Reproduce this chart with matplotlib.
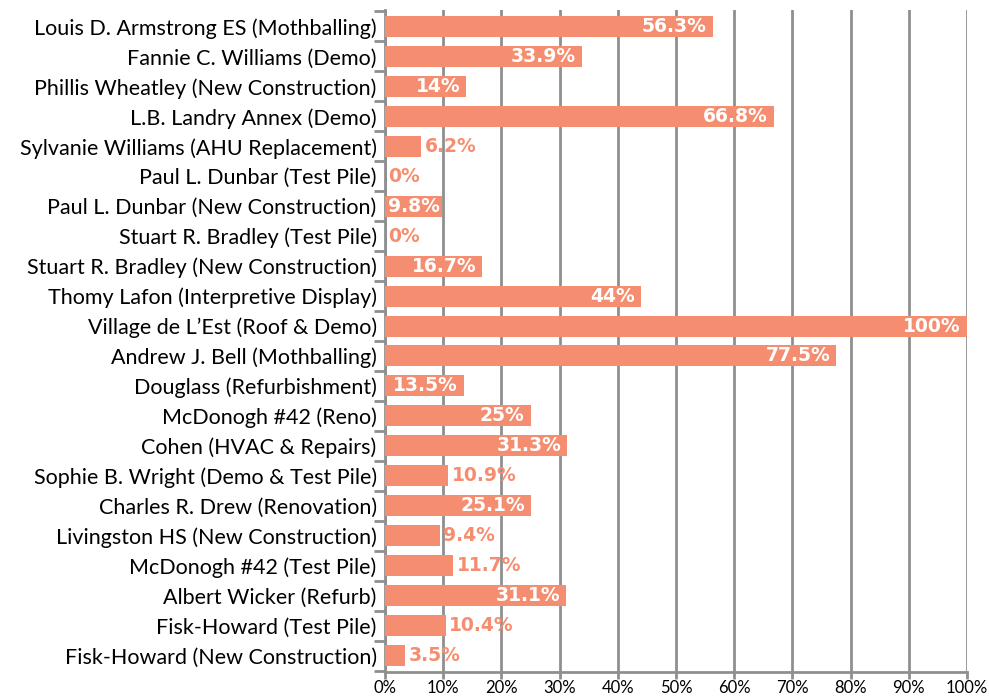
import matplotlib
matplotlib.use("Agg")
import matplotlib.pyplot as plt
import numpy as np

# data
projects = [
    "Louis D. Armstrong ES (Mothballing)",
    "Fannie C. Williams (Demo)",
    "Phillis Wheatley (New Construction)",
    "L.B. Landry Annex (Demo)",
    "Sylvanie Williams (AHU Replacement)",
    "Paul L. Dunbar (Test Pile)",
    "Paul L. Dunbar (New Construction)",
    "Stuart R. Bradley (Test Pile)",
    "Stuart R. Bradley (New Construction)",
    "Thomy Lafon (Interpretive Display)",
    "Village de L\u2019Est (Roof & Demo)",
    "Andrew J. Bell (Mothballing)",
    "Douglass (Refurbishment)",
    "McDonogh #42 (Reno)",
    "Cohen (HVAC & Repairs)",
    "Sophie B. Wright (Demo & Test Pile)",
    "Charles R. Drew (Renovation)",
    "Livingston HS (New Construction)",
    "McDonogh #42 (Test Pile)",
    "Albert Wicker (Refurb)",
    "Fisk-Howard (Test Pile)",
    "Fisk-Howard (New Construction)",
]
pct_complete = [56.3, 33.9, 14, 66.8, 6.2, 0, 9.8, 0, 16.7, 44, 100, 77.5,
                13.5, 25, 31.3, 10.9, 25.1, 9.4, 11.7, 31.1, 10.4, 3.5]
x_ticks = list(range(0, 101, 10))

bar_color = "#F58E70"
grid_color = "#8f8f8f"

fig = plt.figure(figsize=(9.89, 6.96), dpi=100)
ax = fig.add_axes([385 / 989, 1 - 672 / 696, (967 - 385) / 989, (672 - 10) / 696])

y = np.arange(len(projects))
ax.barh(y, pct_complete, height=0.7, color=bar_color, zorder=3)

ax.set_xlim(0, 100)
ax.set_ylim(len(projects) - 0.45, -0.55)

# gridlines
ax.set_xticks(x_ticks)
ax.set_xticklabels([f"{t}%" for t in x_ticks], family="Lato", fontsize=12)
ax.xaxis.grid(True, color=grid_color, linewidth=2, zorder=0)
ax.tick_params(axis="x", length=5, width=2, color=grid_color, pad=1)

# y labels at centres, ticks at category boundaries
ax.set_yticks(y)
ax.set_yticklabels(projects, family="Lato", fontsize=15.5)
ax.tick_params(axis="y", which="major", length=0, pad=6)
ax.set_yticks(np.arange(-0.5, len(projects), 1), minor=True)
ax.tick_params(axis="y", which="minor", length=8, width=2, color=grid_color)

for s in ["top", "right"]:
    ax.spines[s].set_visible(False)
for s in ["left", "bottom"]:
    ax.spines[s].set_color(grid_color)
    ax.spines[s].set_linewidth(2)

# value labels: white inside the bar if they fit, else salmon just outside
fig.canvas.draw()
renderer = fig.canvas.get_renderer()
px2pt = 72 / fig.dpi
for yi, v in zip(y, pct_complete):
    label = f"{v:g}%"
    t = ax.annotate(label, (v, yi), xytext=(0, 0), textcoords="offset points",
                    fontsize=13.5, family="DejaVu Sans", weight="bold",
                    va="center", ha="right", color="white", zorder=4)
    w = t.get_window_extent(renderer).width
    bar_px = ax.transData.transform((v, 0))[0] - ax.transData.transform((0, 0))[0]
    if w + 4 > bar_px:
        t.set_ha("left")
        t.xyann = (2.5, 0)
        t.set_color(bar_color)
    else:
        gap = min(6, max(bar_px - w - 3, 0))
        t.xyann = (-gap * px2pt, 0)

fig.savefig("out.png", dpi=100)
